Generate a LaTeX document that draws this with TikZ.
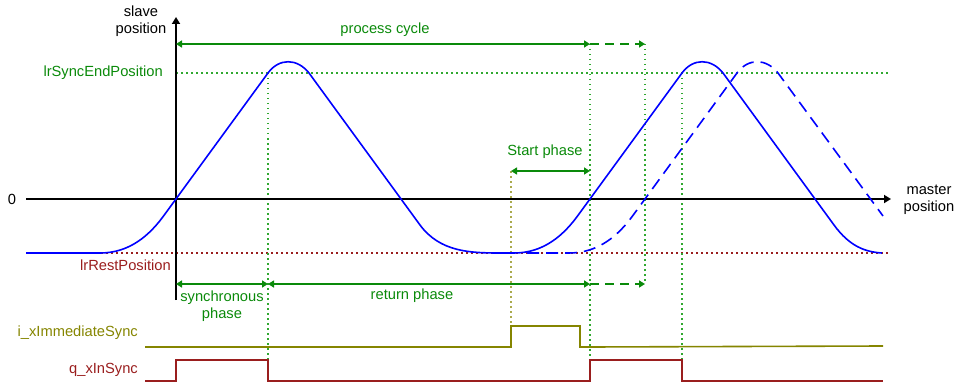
\documentclass[tikz,border=0pt]{standalone}
\usepackage{fontspec}
\setmainfont{Liberation Sans}
\usetikzlibrary{positioning,arrows.meta,calc}
\definecolor{SigGreen}{HTML}{0A8A0A}
\definecolor{DotGreen}{HTML}{30A830}
\definecolor{RestRed}{HTML}{9A1E1E}
\definecolor{SigOlive}{HTML}{858500}
\definecolor{CamBlue}{HTML}{0000FF}

\begin{document}
\begin{tikzpicture}[x=1pt, y=-1pt,
    lbl/.style={font=\fontsize{14.7}{17}\selectfont, inner sep=1pt, align=center},
    axis/.style={line width=2pt, -{Triangle[length=7pt,width=8pt]}},
    cam/.style={CamBlue, line width=1.6pt, line join=round},
    camdash/.style={cam, dash pattern=on 12pt off 7pt},
    lvl/.style={line width=1.4pt, dash pattern=on 1.5pt off 3.5pt},
    ar/.style={SigGreen, line width=1.5pt,
               {Triangle[length=6pt,width=7pt]}-{Triangle[length=6pt,width=7pt]}},
    arx/.style={SigGreen, line width=1.5pt, dash pattern=on 9pt off 6pt,
                -{Triangle[length=6pt,width=7pt]}},
    sig/.style={line width=1.6pt, line join=miter},
  ]
    \useasboundingbox (0,0) rectangle (966,385);

    % ── Reference levels ─────────────────────────────────────────────────
    \draw[lvl, DotGreen] (176,73) -- (888,73);
    \draw[lvl, RestRed]  (26,253) -- (888,253);

    % ── Time marks ───────────────────────────────────────────────────────
    \foreach \x/\ya/\yb in {268/73/360, 590/44/360, 645/44/284, 682/73/360}
      \draw[lvl, DotGreen] (\x,\ya) -- (\x,\yb);
    \draw[lvl, SigOlive!70] (511,171) -- (511,326);

    % ── Axes ─────────────────────────────────────────────────────────────
    \coordinate (O)    at (176,199);
    \coordinate (yBot) at (176,300);
    \coordinate (yTop) at (176,17);
    \coordinate (xLft) at (26,199);
    \coordinate (xRgt) at (891,199);
    \draw[axis] (yBot) -- (yTop);
    \draw[axis] (xLft) -- (xRgt);

    \node[lbl] (slave)  at (141,21)  {slave\\position};
    \node[lbl] (master) at (929,200) {master\\position};
    \node[lbl] (zero)   at (12,199)  {0};
    \node[lbl, anchor=east, text=SigGreen] (syncEnd) at (164,73) {lrSyncEndPosition};
    \node[lbl, anchor=east, text=RestRed]  (rest)    at (172,265) {lrRestPosition};

    % ── Cam profile ──────────────────────────────────────────────────────
    \draw[cam] (26,253) -- (100,253)
      .. controls (130,253) and (150,235) .. (165,214) -- (268,73)
      .. controls (279,58) and (297,58) .. (309,73) -- (420,225)
      .. controls (440,252) and (470,253) .. (500,253) -- (514,253)
      .. controls (544,253) and (564,235) .. (579,214) -- (682,73)
      .. controls (693,58) and (711,58) .. (723,73) -- (834,225)
      .. controls (850,247) and (866,252) .. (882,253);
    \draw[camdash] (527,253) -- (569,253)
      .. controls (599,253) and (619,235) .. (634,214) -- (737,73)
      .. controls (748,58) and (766,58) .. (778,73) -- (883,216);

    % ── Phase arrows ─────────────────────────────────────────────────────
    \coordinate (pc0) at (176,44);
    \coordinate (pc1) at (590,44);
    \coordinate (pc2) at (645,44);
    \coordinate (ph0) at (176,284);
    \coordinate (ph1) at (268,284);
    \coordinate (ph2) at (590,284);
    \coordinate (ph3) at (645,284);
    \coordinate (sp0) at (511,171);
    \coordinate (sp1) at (590,171);

    \draw[ar]  (pc0) -- (pc1);
    \draw[arx] (pc1) -- (pc2);
    \draw[ar]  (ph0) -- (ph1);
    \draw[ar]  (ph1) -- (ph2);
    \draw[arx] (ph2) -- (ph3);
    \draw[ar]  (sp0) -- (sp1);

    \node[lbl, text=SigGreen] (cycle)  at (385,30)  {process cycle};
    \node[lbl, text=SigGreen] (start)  at (545,152) {Start phase};
    \node[lbl, text=SigGreen] (syncph) at (222,306) {synchronous\\phase};
    \node[lbl, text=SigGreen] (retph)  at (412,296) {return phase};

    % ── Signals ──────────────────────────────────────────────────────────
    \node[lbl, anchor=east, text=SigOlive] (immSync) at (139,333) {i\_xImmediateSync};
    \node[lbl, anchor=east, text=RestRed]  (inSync)  at (139,370) {q\_xInSync};

    \draw[sig, SigOlive] (145,347) -- (511,347) -- (511,326) -- (580,326)
      -- (580,347) -- (590,347) -- (883,346);
    \draw[sig, RestRed] (145,381) -- (176,381) -- (176,360) -- (268,360)
      -- (268,381) -- (590,381) -- (590,360) -- (682,360) -- (682,381)
      -- (883,381);
\end{tikzpicture}
\end{document}
